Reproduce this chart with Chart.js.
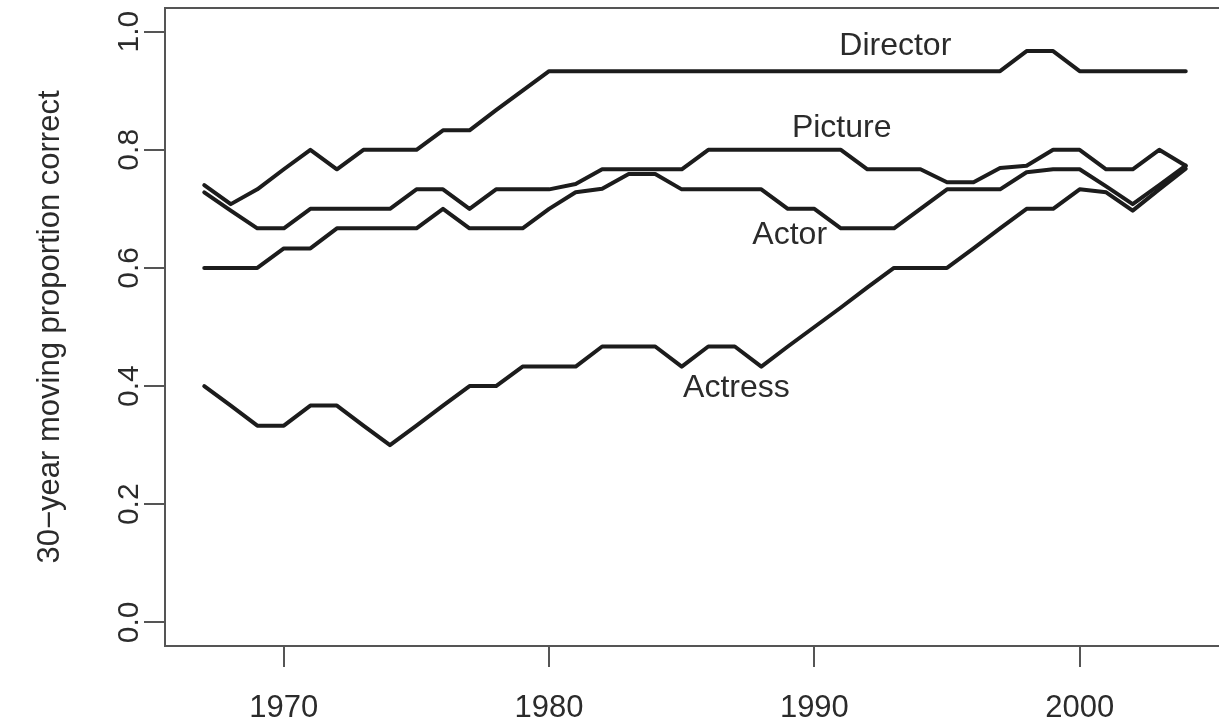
<!DOCTYPE html>
<html>
<head>
<meta charset="utf-8">
<script src="https://cdn.jsdelivr.net/npm/chart.js@4/dist/chart.umd.min.js"></script>
<style>
  html, body { margin: 0; padding: 0; background: #fff; overflow: hidden; }
  canvas { display: block; }
</style>
</head>
<body>
<canvas id="chart" width="1230" height="725"></canvas>
<script>
const years = [1967, 1968, 1969, 1970, 1971, 1972, 1973, 1974, 1975, 1976,
  1977, 1978, 1979, 1980, 1981, 1982, 1983, 1984, 1985, 1986,
  1987, 1988, 1989, 1990, 1991, 1992, 1993, 1994, 1995, 1996,
  1997, 1998, 1999, 2000, 2001, 2002, 2003, 2004];

const director = [0.74, 0.708, 0.733, 0.767, 0.8, 0.767, 0.8, 0.8, 0.8, 0.833,
  0.833, 0.867, 0.9, 0.933, 0.933, 0.933, 0.933, 0.933, 0.933, 0.933,
  0.933, 0.933, 0.933, 0.933, 0.933, 0.933, 0.933, 0.933, 0.933, 0.933,
  0.933, 0.967, 0.967, 0.933, 0.933, 0.933, 0.933, 0.933];

const picture = [0.728, 0.697, 0.667, 0.667, 0.7, 0.7, 0.7, 0.7, 0.733, 0.733,
  0.7, 0.733, 0.733, 0.733, 0.742, 0.767, 0.767, 0.767, 0.767, 0.8,
  0.8, 0.8, 0.8, 0.8, 0.8, 0.767, 0.767, 0.767, 0.745, 0.745,
  0.769, 0.773, 0.8, 0.8, 0.767, 0.767, 0.8, 0.773];

const actor = [0.6, 0.6, 0.6, 0.633, 0.633, 0.667, 0.667, 0.667, 0.667, 0.7,
  0.667, 0.667, 0.667, 0.7, 0.728, 0.734, 0.759, 0.759, 0.733, 0.733,
  0.733, 0.733, 0.7, 0.7, 0.667, 0.667, 0.667, 0.7, 0.733, 0.733,
  0.733, 0.762, 0.767, 0.767, 0.738, 0.708, 0.74, 0.773];

const actress = [0.4, 0.367, 0.333, 0.333, 0.367, 0.367, 0.333, 0.3, 0.333, 0.367,
  0.4, 0.4, 0.433, 0.433, 0.433, 0.467, 0.467, 0.467, 0.433, 0.467,
  0.467, 0.433, 0.467, 0.5, 0.533, 0.567, 0.6, 0.6, 0.6, 0.633,
  0.667, 0.7, 0.7, 0.733, 0.728, 0.697, 0.733, 0.768];

const xTicks = [1970, 1980, 1990, 2000];
const yTicks = [0, 0.2, 0.4, 0.6, 0.8, 1.0];

// text labels next to the lines, anchored in data units (centre x, baseline y)
const lineLabels = [
  { text: "Director", x: 1993.05, y: 0.961 },
  { text: "Picture", x: 1991.03, y: 0.8215 },
  { text: "Actor", x: 1989.07, y: 0.6407 },
  { text: "Actress", x: 1987.06, y: 0.3819 },
];

const ink = "#1c1c1c";
const axisInk = "#555";
const textInk = "#2b2b2b";
const fontFamily = "'Liberation Sans', Arial, Helvetica, sans-serif";

const series = [director, picture, actor, actress];

const boxAndLabels = {
  id: "boxAndLabels",
  afterDraw(chart) {
    const { ctx, chartArea, scales } = chart;
    ctx.save();
    ctx.strokeStyle = axisInk;
    ctx.lineWidth = 2;
    ctx.strokeRect(chartArea.left, chartArea.top,
      chartArea.right - chartArea.left, chartArea.bottom - chartArea.top);

    ctx.fillStyle = textInk;
    ctx.font = "32px " + fontFamily;
    ctx.textAlign = "center";
    ctx.textBaseline = "alphabetic";
    lineLabels.forEach((lab) => {
      ctx.fillText(lab.text, scales.x.getPixelForValue(lab.x),
        scales.y.getPixelForValue(lab.y));
    });
    ctx.restore();
  },
};

new Chart(document.getElementById("chart"), {
  type: "line",
  data: {
    datasets: series.map((values) => ({
      data: years.map((yr, i) => ({ x: yr, y: values[i] })),
      borderColor: ink,
      borderWidth: 4,
      pointRadius: 0,
      tension: 0,
      borderJoinStyle: "round",
      borderCapStyle: "round",
      fill: false,
    })),
  },
  options: {
    responsive: false,
    animation: false,
    events: [],
    layout: {
      padding: { top: 8, right: 5, left: 0, bottom: 0 },
    },
    plugins: {
      legend: { display: false },
      tooltip: { enabled: false },
    },
    scales: {
      x: {
        type: "linear",
        min: 1965.52,
        max: 2005.48,
        afterBuildTicks: (scale) => {
          scale.ticks = xTicks.map((v) => ({ value: v }));
        },
        afterFit: (scale) => {
          scale.height = 79;
          scale.paddingLeft = 0;
          scale.paddingRight = 0;
        },
        ticks: {
          color: textInk,
          font: { family: fontFamily, size: 31 },
          padding: 23,
          maxRotation: 0,
          autoSkip: false,
          callback: (v) => String(v),
        },
        grid: {
          drawOnChartArea: false,
          drawTicks: true,
          tickLength: 21,
          color: axisInk,
          lineWidth: 2,
        },
        border: { display: true, color: axisInk, width: 2 },
      },
      y: {
        type: "linear",
        min: -0.04,
        max: 1.04,
        afterBuildTicks: (scale) => {
          scale.ticks = yTicks.map((v) => ({ value: v }));
        },
        afterFit: (scale) => {
          scale.width = 165;
          scale.paddingTop = 0;
          scale.paddingBottom = 0;
        },
        ticks: {
          color: textInk,
          font: { family: fontFamily, size: 30 },
          padding: -7,
          minRotation: 90,
          maxRotation: 90,
          crossAlign: "center",
          autoSkip: false,
          callback: (v) => Number(v).toFixed(1),
        },
        grid: {
          drawOnChartArea: false,
          drawTicks: true,
          tickLength: 21,
          color: axisInk,
          lineWidth: 2,
        },
        border: { display: true, color: axisInk, width: 2 },
        title: {
          display: true,
          text: "30\u2212year moving proportion correct",
          color: textInk,
          font: { family: fontFamily, size: 31 },
          padding: { top: 32, bottom: 0 },
        },
      },
    },
  },
  plugins: [boxAndLabels],
});
</script>
</body>
</html>
